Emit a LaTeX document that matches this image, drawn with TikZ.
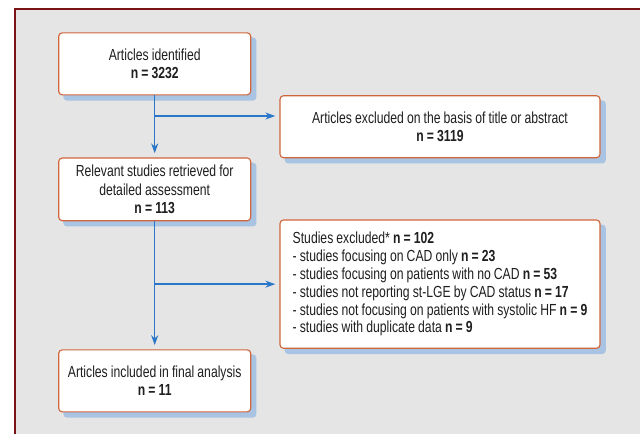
\documentclass[tikz,border=0pt]{standalone}
\usepackage{fontspec}
\setmainfont[FakeStretch=0.76,WordSpace=0.92]{Liberation Sans}
\usepackage{tikz}
\usetikzlibrary{arrows.meta,backgrounds}
\definecolor{framered}{HTML}{7A1416}
\definecolor{panelgray}{HTML}{E5E5E5}
\definecolor{boxorange}{HTML}{D0653B}
\definecolor{shadowblue}{HTML}{A9C4E2}
\definecolor{arrowblue}{HTML}{2A76C8}

\begin{document}
\begin{tikzpicture}[
		stagebox/.style={draw=boxorange,line width=0.8pt,fill=white,rounded corners=2.5pt,
			minimum width=4.8cm,minimum height=1.55cm,align=center,font=\fontsize{11.4}{13}\selectfont,text=black!88},
		exclbox/.style={stagebox,minimum width=8cm},
		flow/.style={draw=arrowblue,line width=1pt,-{Stealth[length=7pt,width=5pt]},shorten >=3pt}]
				\useasboundingbox (0,0) rectangle (16,10.825);
				\clip (0,0) rectangle (16,10.825);
				\node[stagebox] (ident) at (3.8675,9.229) {Articles identified\\\textbf{n = 3232}};
				\node[exclbox] (title) at (11.0,7.6575) {Articles excluded on the basis of title or abstract\\\textbf{n = 3119}};
				\node[stagebox,minimum height=1.5675cm] (relev) at (3.8675,6.091) {Relevant studies retrieved for\\detailed assessment\\\textbf{n = 113}};
				\node[exclbox,minimum height=3.2075cm,align=left,font=\fontsize{11.4}{12.7}\selectfont] (studx) at (11.0,3.721) {Studies excluded* \textbf{n = 102}\\
					- studies focusing on CAD only \textbf{n = 23}\\
					- studies focusing on patients with no CAD \textbf{n = 53}\\
					- studies not reporting st-LGE by CAD status \textbf{n = 17}\\
					- studies not focusing on patients with systolic HF \textbf{n = 9}\\
					- studies with duplicate data \textbf{n = 9}};
				\node[stagebox] (final) at (3.8675,1.304) {Articles included in final analysis\\\textbf{n = 11}};
				\begin{scope}[on background layer]
					\draw[framered,line width=1.6pt,fill=panelgray] (0.3675,-1) rectangle (17,10.6075);
					\foreach \b in {ident,title,relev,studx,final}
						\fill[shadowblue,rounded corners=2.5pt] ([xshift=0.13cm,yshift=-0.13cm]\b.south west) rectangle ([xshift=0.13cm,yshift=-0.13cm]\b.north east);
				\end{scope}
				\coordinate (split1) at (3.8675,7.925);
				\draw[flow] (ident) -- (relev);
				\draw[flow] (split1) -- (split1 -| title.west);
				\draw[flow] (relev) -- (final);
				\draw[flow] (relev |- studx) -- (studx);
			\end{tikzpicture}
\end{document}
